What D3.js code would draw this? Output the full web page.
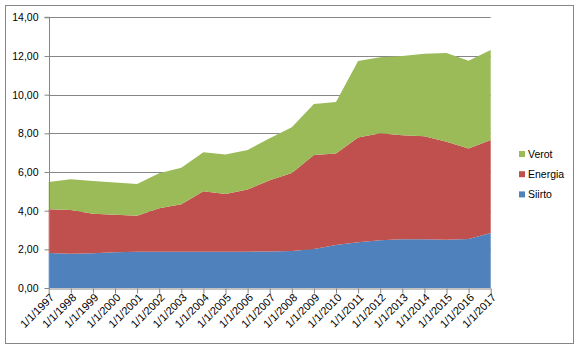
<!DOCTYPE html>
<html>
<head>
<meta charset="utf-8">
<script src="https://cdn.jsdelivr.net/npm/d3@7"></script>
<style>
  html, body { margin: 0; padding: 0; background: #fff; }
  svg { display: block; font-family: "Liberation Sans", Arial, sans-serif; }
</style>
</head>
<body>
<div id="chart"></div>
<script>
// Chart data
const years = ["1/1/1997", "1/1/1998", "1/1/1999", "1/1/2000", "1/1/2001", "1/1/2002", "1/1/2003",
  "1/1/2004", "1/1/2005", "1/1/2006", "1/1/2007", "1/1/2008", "1/1/2009", "1/1/2010",
  "1/1/2011", "1/1/2012", "1/1/2013", "1/1/2014", "1/1/2015", "1/1/2016", "1/1/2017"];
const siirto = [1.81, 1.77, 1.80, 1.85, 1.88, 1.88, 1.88, 1.88, 1.88, 1.88, 1.89,
  1.92, 2.02, 2.22, 2.37, 2.47, 2.52, 2.52, 2.50, 2.53, 2.84];
const energia = [2.26, 2.26, 2.04, 1.94, 1.86, 2.24, 2.45, 3.12, 2.98, 3.22, 3.68,
  4.03, 4.86, 4.74, 5.42, 5.53, 5.38, 5.33, 5.07, 4.68, 4.81];
const verot = [1.41, 1.59, 1.69, 1.66, 1.64, 1.81, 1.89, 2.02, 2.04, 2.04, 2.17,
  2.36, 2.63, 2.66, 3.95, 3.93, 4.10, 4.27, 4.58, 4.54, 4.66];
const seriesNames = ["Siirto", "Energia", "Verot"];
const yTicks = [0, 2, 4, 6, 8, 10, 12, 14];

const colors = { Siirto: "#4F81BD", Energia: "#C0504D", Verot: "#9BBB59" };

const width = 581;
const height = 351;
const plot = { left: 48.7, right: 490.7, top: 17.3, bottom: 288 };

const rows = years.map((y, i) => ({ year: y, Siirto: siirto[i], Energia: energia[i], Verot: verot[i] }));

const svg = d3.select("#chart").append("svg").attr("width", width).attr("height", height);

// outer chart border
svg.append("rect")
  .attr("x", 5.5).attr("y", 5.5)
  .attr("width", 568).attr("height", 338)
  .attr("fill", "#fff")
  .attr("stroke", "#868686")
  .attr("stroke-width", 1);

const x = d3.scalePoint().domain(years).range([plot.left, plot.right]).padding(0);
const y = d3.scaleLinear().domain([0, 14]).range([plot.bottom, plot.top]);

// gridlines
svg.append("g")
  .selectAll("line")
  .data(yTicks.filter((t) => t > 0))
  .enter()
  .append("line")
  .attr("x1", plot.left).attr("x2", plot.right)
  .attr("y1", (d) => Math.round(y(d)) + 0.5).attr("y2", (d) => Math.round(y(d)) + 0.5)
  .attr("stroke", "#868686");

// stacked areas
const stack = d3.stack().keys(seriesNames);
const layers = stack(rows);
const area = d3.area()
  .x((d) => x(d.data.year))
  .y0((d) => y(d[0]))
  .y1((d) => y(d[1]));

svg.append("g")
  .selectAll("path")
  .data(layers)
  .enter()
  .append("path")
  .attr("d", area)
  .attr("fill", (d) => colors[d.key]);

// y axis
const yAxis = d3.axisLeft(y)
  .tickValues(yTicks)
  .tickSize(5)
  .tickPadding(6)
  .tickFormat((d) => d3.format(".2f")(d).replace(".", ","));

const yg = svg.append("g")
  .attr("transform", `translate(${Math.round(plot.left) + 0.5},0)`)
  .call(yAxis);
yg.select(".domain").attr("stroke", "#868686").attr("d", `M-5,${plot.top}H0V${plot.bottom}`);
yg.selectAll(".tick line").attr("stroke", "#868686");
yg.selectAll(".tick text").attr("fill", "#000").style("font-size", "10.5px");

// x axis
const xAxis = d3.axisBottom(x).tickSize(5).tickSizeOuter(0);
const xg = svg.append("g")
  .attr("transform", `translate(0,${Math.round(plot.bottom) + 0.5})`)
  .call(xAxis);
xg.select(".domain").attr("stroke", "#868686");
xg.selectAll(".tick line").attr("stroke", "#868686");
xg.selectAll(".tick text")
  .attr("fill", "#000")
  .style("font-size", "11px")
  .attr("text-anchor", "end")
  .attr("dy", "0.35em")
  .attr("transform", "translate(3,7) rotate(-45)")
  .attr("y", 0)
  .attr("x", 0);

// legend
const legendItems = ["Verot", "Energia", "Siirto"];
const legend = svg.append("g").attr("transform", "translate(519,154)");
legendItems.forEach((name, i) => {
  const g = legend.append("g").attr("transform", `translate(0,${i * 20.2})`);
  g.append("rect").attr("x", 0).attr("y", -3).attr("width", 6).attr("height", 6).attr("fill", colors[name]);
  g.append("text").attr("x", 9).attr("y", 0).attr("dy", "0.35em")
    .style("font-size", "10.5px").attr("fill", "#000").text(name);
});
</script>
</body>
</html>
